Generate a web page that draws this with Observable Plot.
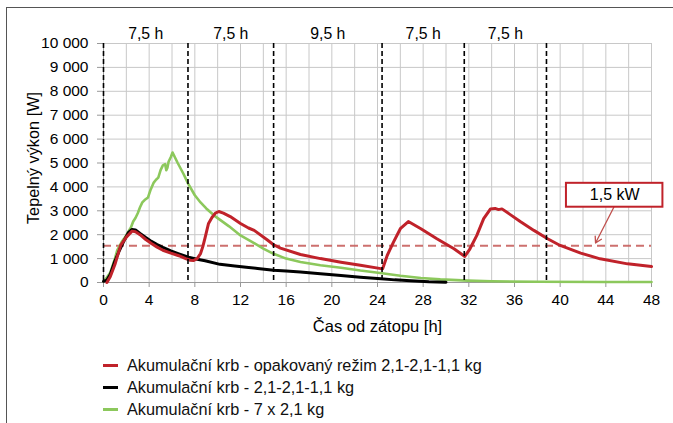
<!DOCTYPE html>
<html>
<head>
<meta charset="utf-8">
<script src="https://cdn.jsdelivr.net/npm/d3@7"></script>
<script src="https://cdn.jsdelivr.net/npm/@observablehq/plot@0.6"></script>
<style>
  html, body { margin: 0; padding: 0; background: #fff; }
  body { width: 673px; height: 423px; position: relative; overflow: hidden; font-family: "Liberation Sans", Arial, sans-serif; }
  #frame { position: absolute; left: 6px; top: 7px; width: 700px; height: 450px; border-left: 1.5px solid #555; border-top: 1.5px solid #555; }
  #chart { position: absolute; left: 0; top: 0; }
  #legend { position: absolute; left: 103px; top: 354px; font-size: 16.3px; color: #111; }
  .item { height: 22px; line-height: 22px; display: flex; align-items: center; }
  .sw { width: 15px; height: 3px; margin-right: 9px; display: inline-block; }
</style>
</head>
<body>
<div id="frame"></div>
<div id="chart"></div>
<div id="legend"></div>
<script>
// ---- data ----
const seriesNames = [
  "Akumulační krb - opakovaný režim 2,1-2,1-1,1 kg",
  "Akumulační krb - 2,1-2,1-1,1 kg",
  "Akumulační krb - 7 x 2,1 kg"
];
const seriesColors = ["#c0222a", "#000000", "#8cc85c"];

const redT = [0.3,0.6,1.0,1.5,2.0,2.5,2.8,3.2,3.7,4.2,4.7,5.2,5.9,6.6,7.2,7.6,7.9,8.2,8.5,8.7,8.9,9.2,9.5,9.8,10.1,10.5,11.1,12.0,12.7,13.2,14.3,14.9,15.5,17.25,19.0,20.8,22.5,24.3,24.45,24.85,25.4,26.0,26.7,27.8,29.2,30.7,31.65,32.1,32.7,33.3,33.9,34.3,34.6,34.9,35.6,36.5,37.7,38.9,40.0,41.8,43.5,45.9,48.0];
const redW = [0,250,750,1550,1900,2150,2120,2000,1800,1630,1480,1350,1230,1120,1000,930,920,1000,1210,1500,1880,2470,2720,2900,2970,2900,2760,2470,2280,2180,1800,1580,1440,1170,1000,850,720,580,580,1130,1690,2250,2550,2250,1830,1410,1090,1410,1970,2670,3080,3100,3050,3080,2850,2550,2180,1830,1550,1230,990,780,670];

const blackT = [0,0.3,0.6,1.0,1.4,1.8,2.2,2.5,2.8,3.2,3.7,4.2,4.7,5.2,5.9,6.6,7.45,8.2,8.9,10.2,11.5,12.5,13.5,14.9,16.0,17.25,19.0,20.8,22.5,24.3,25.5,26.9,28.5,30.0];
const blackW = [50,100,350,900,1350,1750,2100,2220,2200,2050,1880,1720,1590,1470,1320,1200,1060,970,910,760,690,640,590,510,480,440,370,290,220,160,110,70,30,10];

const greenT = [0,0.2,0.6,1.0,1.2,1.6,1.9,2.2,2.4,2.6,2.8,3.0,3.2,3.4,3.6,3.9,4.1,4.4,4.6,4.8,5.0,5.2,5.4,5.5,5.6,5.7,5.9,6.05,6.5,7.0,7.4,8.0,8.5,9.0,9.7,11.0,12.0,13.0,14.0,14.9,16.0,17.25,19.0,20.8,22.5,24.4,26.0,27.8,29.5,31.9,34.0,38.0,44.0,48.0];
const greenW = [50,150,420,1000,1340,1700,1900,2150,2300,2550,2700,2900,3150,3350,3450,3560,3850,4180,4300,4390,4700,4900,4950,4700,4800,5050,5250,5440,5000,4550,4150,3650,3350,3100,2800,2350,1970,1700,1420,1200,1000,860,720,620,500,390,280,190,130,80,50,30,20,20];

const intervalBounds = [0, 7.4, 14.9, 24.4, 31.6, 38.8];
const intervalLabels = ["7,5 h", "7,5 h", "9,5 h", "7,5 h", "7,5 h"];
const thresholdW = [1540];
const thresholdLabel = "1,5 kW";
const noteBox = {x1: 40.55, x2: 49.0, y1: 3150, y2: 4150};
const noteArrow = {x1: 44.7, y1: 3150, x2: 43.1, y2: 1650};

const xTicks = d3.range(0, 49, 4);
const xGrid = d3.range(0, 49, 2);
const yTicks = d3.range(0, 10001, 1000);

// ---- build ----
const toRows = (T, W) => T.map((t, i) => ({t, w: W[i]}));
const red = toRows(redT, redW);
const black = toRows(blackT, blackW);
const green = toRows(greenT, greenW);
const intervals = intervalLabels.map((l, i) => ({label: l, x: (intervalBounds[i] + intervalBounds[i + 1]) / 2}));
const fmt = d => d3.format(",")(d).replace(/,/g, " ");

const plot = Plot.plot({
  width: 673, height: 345,
  marginLeft: 103, marginRight: 22, marginTop: 43, marginBottom: 63,
  style: {fontFamily: "'Liberation Sans', Arial, sans-serif", fontSize: "15.5px", color: "#000", background: "transparent", overflow: "visible"},
  x: {domain: [0, 48]},
  y: {domain: [0, 10000]},
  marks: [
    Plot.gridX(xGrid, {stroke: "#c8c8c8", strokeOpacity: 1, strokeWidth: 1}),
    Plot.gridY(yTicks, {stroke: "#c8c8c8", strokeOpacity: 1, strokeWidth: 1}),
    Plot.ruleX([0], {stroke: "#999"}),
    Plot.ruleY([0], {stroke: "#999"}),
    Plot.axisX({ticks: xTicks, tickSize: 5, tickPadding: 6, stroke: "#999", label: null, fill: "#000"}),
    Plot.axisY({ticks: yTicks, tickSize: 6, tickPadding: 9, tickFormat: fmt, stroke: "#999", label: null, fill: "#000"}),
    Plot.ruleY(thresholdW, {stroke: "#c8605e", strokeWidth: 2, strokeDasharray: "8,5", strokeOpacity: 0.9}),
    Plot.line(green, {x: "t", y: "w", stroke: seriesColors[2], strokeWidth: 2.6}),
    Plot.line(black, {x: "t", y: "w", stroke: seriesColors[1], strokeWidth: 3}),
    Plot.line(red, {x: "t", y: "w", stroke: seriesColors[0], strokeWidth: 3}),
    Plot.ruleX(intervalBounds, {stroke: "#000", strokeWidth: 1.6, strokeDasharray: "5,3"}),
    Plot.text(intervals, {x: "x", text: "label", frameAnchor: "top", dy: -16, fontSize: 15.8}),
    Plot.text(["Čas od zátopu [h]"], {frameAnchor: "bottom", dy: 49, fontSize: 16.5}),
    Plot.text(["Tepelný výkon [W]"], {frameAnchor: "left", textAnchor: "middle", rotate: -90, dx: -70, dy: -5, fontSize: 16.3}),
    Plot.arrow([noteArrow], {x1: "x1", y1: "y1", x2: "x2", y2: "y2", stroke: "#c0504d", strokeWidth: 1.3, headLength: 8}),
    Plot.rect([noteBox], {x1: "x1", x2: "x2", y1: "y1", y2: "y2", fill: "#fff", stroke: "#c0222a", strokeWidth: 2}),
    Plot.text([thresholdLabel], {x: (noteBox.x1 + noteBox.x2) / 2, y: (noteBox.y1 + noteBox.y2) / 2, fontSize: 16})
  ]
});
document.getElementById("chart").appendChild(plot);

const legend = document.getElementById("legend");
seriesNames.forEach((n, i) => {
  const row = document.createElement("div");
  row.className = "item";
  const sw = document.createElement("span");
  sw.className = "sw";
  sw.style.background = seriesColors[i];
  row.appendChild(sw);
  row.appendChild(document.createTextNode(n));
  legend.appendChild(row);
});
</script>
</body>
</html>
